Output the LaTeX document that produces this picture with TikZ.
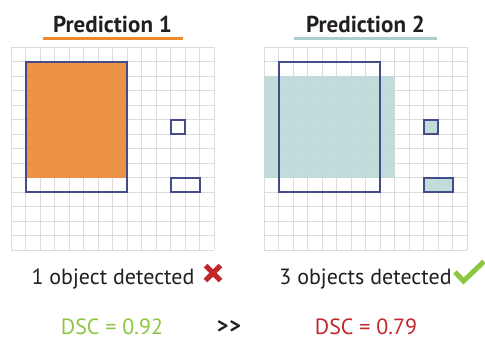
\documentclass[tikz,border=0pt]{standalone}
\usepackage{fontspec}
\setmainfont{PT Sans}
\definecolor{txt}{HTML}{231F20}
\definecolor{orangefill}{HTML}{EC8832}
\definecolor{orangeline}{HTML}{EE8A2E}
\definecolor{tealfill}{HTML}{BBD9D8}
\definecolor{tealline}{HTML}{A9D0CE}
\definecolor{gridcol}{HTML}{DCDCDC}
\definecolor{navy}{HTML}{454A8A}
\definecolor{redmark}{HTML}{C1272D}
\definecolor{greenmark}{HTML}{8DC63F}
\begin{document}
\begin{tikzpicture}[x=1pt,y=-1pt,
  gridline/.style={draw=gridcol, line width=0.9pt},
  boxline/.style={draw=navy, line width=2pt},
  titletext/.style={font=\fontsize{23}{27}\selectfont\bfseries, text=txt, inner sep=0pt, anchor=base},
  bodytext/.style={font=\fontsize{22}{26}\selectfont, text=txt, inner sep=0pt, anchor=base},
  score/.style={font=\fontsize{22}{26}\selectfont, inner sep=0pt, anchor=base}]
\useasboundingbox (0,0) rectangle (485,340);
\fill[white] (0,0) rectangle (485,340);

% ---------- left panel ----------
\begin{scope}[shift={(11,47)}, x=14.5pt, y=-14.5pt]
  \foreach \i in {0,...,14} {
    \draw[gridline] (\i,0) -- (\i,14);
    \draw[gridline] (0,\i) -- (14,\i);
  }
  \fill[orangefill, fill opacity=0.9] (1,1) rectangle (8,9);
  \draw[boxline] (1,1) rectangle (8,10);
  \draw[boxline] (11,5) rectangle (12,6);
  \draw[boxline] (11,9) rectangle (13,10);
\end{scope}

% ---------- right panel ----------
\begin{scope}[shift={(264,47)}, x=14.5pt, y=-14.5pt]
  \foreach \i in {0,...,14} {
    \draw[gridline] (\i,0) -- (\i,14);
    \draw[gridline] (0,\i) -- (14,\i);
  }
  \fill[tealfill, fill opacity=0.9] (0,2) rectangle (9,9);
  \fill[tealfill, fill opacity=0.9] (11,5) rectangle (12,6);
  \fill[tealfill, fill opacity=0.9] (11,9) rectangle (13,10);
  \draw[boxline] (1,1) rectangle (8,10);
  \draw[boxline] (11,5) rectangle (12,6);
  \draw[boxline] (11,9) rectangle (13,10);
\end{scope}

% ---------- titles ----------
\node[titletext] (t1) at (112.5,32.5) {Prediction 1};
\node[titletext] (t2) at (365.5,32.5) {Prediction 2};
\coordinate (u1a) at (43,38.5);  \coordinate (u1b) at (183,38.5);
\coordinate (u2a) at (294,38.5); \coordinate (u2b) at (437,38.5);
\draw[orangeline, line width=3pt] (u1a) -- (u1b);
\draw[tealline, line width=3pt] (u2a) -- (u2b);

% ---------- captions ----------
\node[bodytext] (c1) at (113,284) {1 object detected};
\node[bodytext] (c2) at (365.5,284) {3 objects detected};
% cross
\coordinate (xa) at (205.5,265.5); \coordinate (xb) at (220.5,280.5);
\coordinate (xc) at (220.5,265.5); \coordinate (xd) at (205.5,280.5);
\draw[redmark, line width=5pt] (xa) -- (xb);
\draw[redmark, line width=5pt] (xc) -- (xd);
% tick
\coordinate (ka) at (455,272); \coordinate (kb) at (463.5,281); \coordinate (kc) at (484,261.5);
\draw[greenmark, line width=5pt, line join=miter] (ka) -- (kb) -- (kc);

% ---------- scores ----------
\node[score, text=greenmark] (s1) at (112,334) {DSC = 0.92};
\node[score, text=txt, font=\fontsize{22}{26}\selectfont\bfseries] (gg) at (229,333) {>\kern1pt>};
\node[score, text=redmark] (s2) at (366,334) {DSC = 0.79};
\end{tikzpicture}
\end{document}
